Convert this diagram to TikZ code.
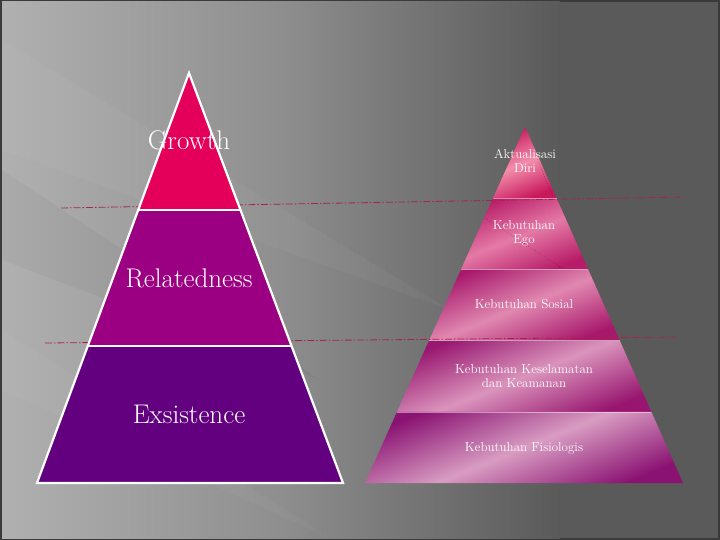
\documentclass[tikz,border=0pt]{standalone}
\usetikzlibrary{calc,positioning}
\definecolor{framec}{HTML}{3A3A3A}
\definecolor{bgl}{HTML}{B0B0B0}
\definecolor{bgm}{HTML}{8E8E8E}
\definecolor{bgr}{HTML}{5A5A5A}
\definecolor{growthc}{HTML}{E4005A}
\definecolor{relatc}{HTML}{9C0082}
\definecolor{existc}{HTML}{630080}
\definecolor{linec}{HTML}{A3264A}
\definecolor{pinka}{HTML}{F28EAC}
\definecolor{pinkb}{HTML}{E47AA6}
\definecolor{pinkc}{HTML}{E088B0}
\definecolor{pinkd}{HTML}{DA94BC}
\definecolor{pinke}{HTML}{D89CC2}
\definecolor{darka}{HTML}{C8195C}
\definecolor{darkb}{HTML}{B81C68}
\definecolor{darkc}{HTML}{A8186C}
\definecolor{darkd}{HTML}{981670}
\definecolor{darke}{HTML}{8A1272}
\begin{document}
\begin{tikzpicture}
[x=1pt, y=-1pt, thick,
 erg/.style={text=white, font=\fontsize{27}{30}\selectfont},
 need/.style={text=white, align=center, font=\fontsize{13}{14}\selectfont},
 level/.style={dash pattern=on 7pt off 2pt on 1.5pt off 2pt, linec, line width=.8pt}]
\def\lo{.3333}
\def\lt{.6667}
\useasboundingbox (0,0) rectangle (720,540);
\fill[framec] (0,0) rectangle (720,540);
\fill[bgr] (2,2) rectangle (718,538);
\shade[left color=bgl, right color=bgr, middle color=bgm] (2,2) rectangle (560,538);
\fill[white, opacity=.035] (2,40) -- (2,150) -- (450,310) -- cycle;
\fill[white, opacity=.03] (2,330) -- (2,390) -- (330,538) -- cycle;
\fill[black, opacity=.03] (2,170) -- (2,260) -- (320,380) -- cycle;
% right pyramid
\coordinate (ra) at (525,127);
\coordinate (rl) at (365,483);
\coordinate (rr) at (683,483);
\foreach \a/\b/\lc/\dc in {0/.2/pinka/darka, .2/.4/pinkb/darkb, .4/.6/pinkc/darkc, .6/.8/pinkd/darkd, .8/1/pinke/darke}
  \shade[bottom color=\dc, top color=\dc, middle color=\lc, shading angle=22]
    ($(ra)!\a!(rl)$) -- ($(ra)!\b!(rl)$) -- ($(ra)!\b!(rr)$) -- ($(ra)!\a!(rr)$) -- cycle;
\foreach \b in {.2,.4,.6,.8}
  \draw[white, opacity=.45, line width=.6pt] ($(ra)!\b!(rl)$) -- ($(ra)!\b!(rr)$);
\draw[black, opacity=.35, dotted, line width=.6pt] (533,150) -- (553,196);
\draw[black, opacity=.35, dotted, line width=.6pt] (485,218) -- (562,268);
% levels
\coordinate (ga) at (61,208);
\coordinate (gb) at (686,197);
\coordinate (ea) at (45,343);
\coordinate (eb) at (678,337);
\draw[level] (ga) -- (gb);
\draw[level] (ea) -- (eb);
% left pyramid
\coordinate (la) at (189,73);
\coordinate (ll) at (37,483);
\coordinate (lr) at (343,483);
\fill[growthc] (la) -- ($(la)!\lo!(ll)$) -- ($(la)!\lo!(lr)$) -- cycle;
\fill[relatc] ($(la)!\lo!(ll)$) -- ($(la)!\lt!(ll)$) -- ($(la)!\lt!(lr)$) -- ($(la)!\lo!(lr)$) -- cycle;
\fill[existc] ($(la)!\lt!(ll)$) -- (ll) -- (lr) -- ($(la)!\lt!(lr)$) -- cycle;
\draw[white, line width=2.2pt, line join=miter] (la) -- (ll) -- (lr) -- cycle;
\draw[white, line width=2.2pt] ($(la)!\lo!(ll)$) -- ($(la)!\lo!(lr)$);
\draw[white, line width=2.2pt] ($(la)!\lt!(ll)$) -- ($(la)!\lt!(lr)$);
\node[erg] (growth) at (189,140) {Growth};
\node[erg] (relat) at (189,278) {Relatedness};
\node[erg] (exist) at (189,414) {Exsistence};
\node[need] (aktual) at (525,161) {Aktualisasi\\Diri};
\node[need] (ego) at (524,233) {Kebutuhan\\Ego};
\node[need] (sosial) at (524,304) {Kebutuhan Sosial};
\node[need] (aman) at (524,376) {Kebutuhan Keselamatan\\dan Keamanan};
\node[need] (fisio) at (524,448) {Kebutuhan Fisiologis};
\end{tikzpicture}
\end{document}
